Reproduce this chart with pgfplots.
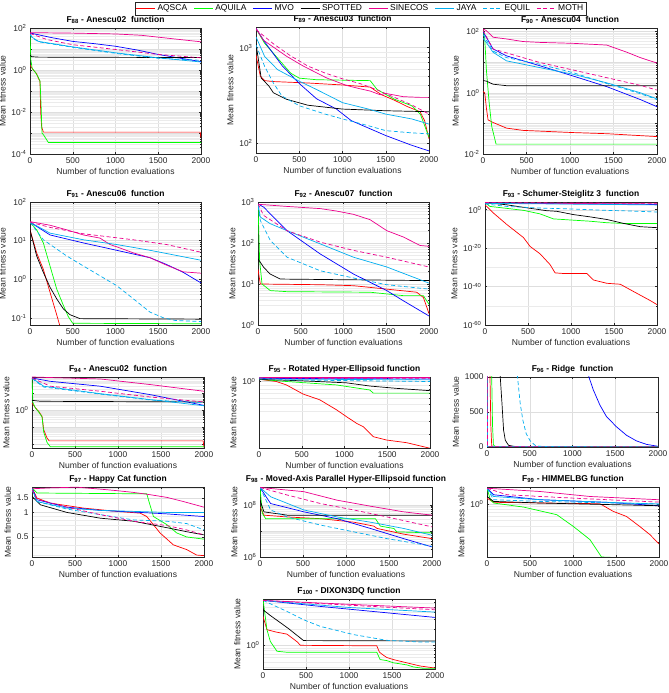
\documentclass[border=0pt]{standalone}
\usepackage{fontspec}
\setmainfont{Liberation Sans}
\usepackage{pgfplots}
\pgfplotsset{compat=1.18}

\definecolor{axgray}{rgb}{0.15,0.15,0.15}

\tikzset{
  sAQSCA/.style={color=red, solid},
  sAQUILA/.style={color=green, solid},
  sMVO/.style={color=blue, solid},
  sSPOTTED/.style={color=black, solid},
  sSINECOS/.style={color=magenta, solid},
  sJAYA/.style={color=cyan, solid},
  sEQUIL/.style={color=cyan, dash pattern=on 4bp off 2.5bp},
  sMOTH/.style={color=magenta, dash pattern=on 4bp off 2.5bp},
}

% powers of ten in the text font
\pgfplotsset{log number format basis/.code 2 args={#1\textsuperscript{\pgfmathprintnumber{#2}}}}

\pgfplotsset{
  conv/.style={
    scale only axis,
    xmin=0, xmax=2000, xtick={0,500,1000,1500,2000},
    axis line style={draw=axgray, line width=0.4bp},
    tick style={axgray, line width=0.4bp},
    major tick length=2.2bp, minor tick length=1.2bp,
    tick align=inside,
    xmajorgrids, ymajorgrids, yminorgrids,
    major grid style={black!13, line width=0.35bp},
    minor grid style={black!8, line width=0.3bp},
    tick label style={font=\fontsize{8.4}{9}\selectfont, text=axgray},
    label style={font=\fontsize{8.6}{10}\selectfont, text=axgray},
    title style={font=\bfseries\fontsize{8.5}{10}\selectfont, yshift=-5.5bp},
    xlabel={Number of function evaluations},
    ylabel={Mean fitness value},
    xlabel style={yshift=2bp},
    ylabel style={yshift=-1bp},
    /pgf/number format/assume math mode=true,
    /pgf/number format/set thousands separator={},
    every axis plot/.append style={line width=0.7bp},
  },
}

\begin{document}
\begin{tikzpicture}
\useasboundingbox (0,0) rectangle (669bp,693bp);

% ---------------- F88 ----------------
\begin{axis}[conv, ymode=log, at={(30bp,665bp)}, anchor=north west,
  width=171bp, height=126bp, ymin=1e-4, ymax=1e2,
  ytick={1e-4,1e-3,1e-2,1e-1,1,10,100},
  yticklabels={10\textsuperscript{-4},,10\textsuperscript{-2},,10\textsuperscript{0},,10\textsuperscript{2}},
  title={F\textsubscript{88} - Anescu02~ function}]
\addplot[sAQSCA] coordinates {(0,1.7)(39,1.0)(78,0.66)(97,0.41)(117,0.28)(125,0.01)(136,2e-3)(156,1.1e-3)(1990,1.1e-3)(2000,6e-4)};
\addplot[sAQUILA] coordinates {(0,50)(10,3)(25,1.2)(60,0.8)(97,0.45)(117,0.3)(130,0.02)(140,1e-3)(160,8e-4)(215,3.5e-4)(2000,3.5e-4)};
\addplot[sMVO] coordinates {(0,58)(250,35)(500,23)(750,18)(1000,13.5)(1250,9)(1500,5.5)(1750,3.7)(2000,2.5)};
\addplot[sSPOTTED] coordinates {(0,5)(20,4.3)(100,4.1)(2000,3.9)};
\addplot[sSINECOS] coordinates {(0,60)(500,57)(1000,52)(1300,45)(1600,33)(2000,22)};
\addplot[sJAYA] coordinates {(0,50)(30,35)(100,23)(500,12.6)(1000,6.6)(1500,3.8)(2000,2.4)};
\addplot[sEQUIL] coordinates {(0,50)(30,33)(100,22)(500,12)(1000,6.2)(1500,3.6)(2000,2.9)};
\addplot[sMOTH] coordinates {(0,55)(200,28)(500,16)(1000,9.5)(1500,5.5)(2000,3.8)};
\end{axis}

% ---------------- F89 (carries the shared legend) ----------------
\begin{axis}[conv, ymode=log, at={(256bp,666bp)}, anchor=north west,
  width=173bp, height=126bp, ymin=78, ymax=1650, ytick={100,1000},
  title={F\textsubscript{89} - Anescu03~ function},
  legend columns=8,
  legend entries={AQSCA,AQUILA,MVO,SPOTTED,SINECOS,JAYA,EQUIL,MOTH},
  legend style={at={(0.604,1.1984)}, anchor=north, draw=axgray, line width=0.4bp,
    font=\fontsize{8.5}{9}\selectfont, inner sep=0.8bp,
    /tikz/every even column/.append style={column sep=4.5bp}},
  legend image code/.code={\draw[#1, line width=0.7bp] (0bp,0bp) -- (19bp,0bp);}]
\addplot[sAQSCA] coordinates {(0,840)(50,500)(100,450)(200,440)(600,425)(1000,405)(1320,385)(1450,320)(1600,280)(1750,240)(1896,212)(1950,170)(2000,110)};
\addplot[sAQUILA] coordinates {(0,1580)(100,1110)(200,875)(400,540)(500,478)(700,460)(1320,450)(1400,363)(1600,287)(1800,245)(1900,200)(2000,114)};
\addplot[sMVO] coordinates {(0,1600)(100,1150)(300,650)(500,420)(700,290)(930,226)(1100,171)(1500,119)(1800,94)(2000,82)};
\addplot[sSPOTTED] coordinates {(0,1100)(60,480)(150,394)(200,336)(350,287)(600,248)(1000,226)(1500,217)(2000,212)};
\addplot[sSINECOS] coordinates {(0,1600)(85,1200)(355,810)(547,640)(817,480)(1048,400)(1200,370)(1318,350)(1434,320)(1500,330)(1703,305)(1896,300)(2000,300)};
\addplot[sJAYA] coordinates {(0,1300)(100,807)(250,587)(500,444)(700,363)(1000,264)(1300,226)(1500,200)(1800,178)(2000,157)};
\addplot[sEQUIL] coordinates {(0,1070)(100,635)(200,426)(300,310)(500,245)(800,200)(1000,178)(1300,151)(1500,134)(1800,127)(2000,124)};
\addplot[sMOTH] coordinates {(0,1550)(200,1100)(400,820)(600,640)(800,540)(1000,470)(1200,420)(1400,360)(1600,300)(1800,250)(2000,200)};
\end{axis}

% ---------------- F90 ----------------
\begin{axis}[conv, ymode=log, at={(483bp,665bp)}, anchor=north west,
  width=174bp, height=126bp, ymin=1e-2, ymax=130,
  ytick={1e-2,1e-1,1,10,100},
  yticklabels={10\textsuperscript{-2},,10\textsuperscript{0},,10\textsuperscript{2}},
  title={F\textsubscript{90} - Anescu04~ function}]
\addplot[sAQSCA] coordinates {(0,1.1)(20,1.0)(40,0.3)(58,0.13)(115,0.107)(270,0.07)(460,0.059)(1038,0.05)(1423,0.046)(2000,0.037)};
\addplot[sAQUILA] coordinates {(0,110)(20,60)(40,5)(70,0.5)(100,0.08)(150,0.021)(2000,0.021)};
\addplot[sMVO] coordinates {(0,100)(115,27)(270,16)(654,7.6)(1038,3.5)(1423,1.58)(1808,0.6)(2000,0.35)};
\addplot[sSPOTTED] coordinates {(0,2.5)(38,2.4)(115,1.9)(270,1.7)(2000,1.7)};
\addplot[sSINECOS] coordinates {(0,120)(38,107)(115,65)(270,57)(460,47)(654,44)(1038,41)(1423,36)(1500,30)(1654,21)(1808,14)(2000,9.3)};
\addplot[sJAYA] coordinates {(0,60)(38,44)(115,21)(270,11)(654,6.6)(1038,4)(1423,2.1)(1808,1.0)(2000,0.63)};
\addplot[sEQUIL] coordinates {(0,80)(115,23)(270,14)(654,8.5)(1038,4.5)(1423,2.0)(1808,0.93)(2000,0.6)};
\addplot[sMOTH] coordinates {(0,110)(115,27)(270,20)(654,9.7)(1038,5.5)(1423,3.1)(1808,1.74)(2000,1.22)};
\end{axis}

% ---------------- F91 ----------------
\begin{axis}[conv, ymode=log, at={(30bp,491bp)}, anchor=north west,
  width=171bp, height=123bp, ymin=0.065, ymax=100, ytick={0.1,1,10,100},
  title={F\textsubscript{91} - Anescu06~ function}]
\addplot[sAQSCA] coordinates {(0,19)(78,4.8)(156,1.8)(234,0.46)(312,0.12)(351,0.06)(400,0.03)(2000,0.03)};
\addplot[sAQUILA] coordinates {(0,30)(78,19)(156,8.7)(234,2.2)(312,0.56)(390,0.21)(448,0.107)(500,0.072)(2000,0.07)};
\addplot[sMVO] coordinates {(0,30)(234,14)(624,8.7)(1014,5.6)(1404,3.6)(1598,2.4)(1793,1.5)(2000,0.8)};
\addplot[sSPOTTED] coordinates {(0,19)(78,4)(156,1.5)(234,0.62)(312,0.31)(390,0.17)(468,0.12)(585,0.095)(2000,0.092)};
\addplot[sSINECOS] coordinates {(0,31)(234,25)(429,19)(624,14)(819,11.6)(936,7.9)(1014,6.9)(1209,4.8)(1404,3.6)(1598,2.3)(1793,1.55)(2000,1.43)};
\addplot[sJAYA] coordinates {(0,30)(234,15.6)(624,10.5)(1014,7.9)(1404,5.6)(2000,3.1)};
\addplot[sEQUIL] coordinates {(0,30)(156,10.5)(429,4)(624,2.2)(1014,0.68)(1209,0.31)(1404,0.14)(1560,0.1)(1700,0.085)(2000,0.08)};
\addplot[sMOTH] coordinates {(0,30)(234,22)(624,15)(1209,10.5)(1598,7.9)(2000,5.0)};
\end{axis}

% ---------------- F92 ----------------
\begin{axis}[conv, ymode=log, at={(258bp,491bp)}, anchor=north west,
  width=171bp, height=123bp, ymin=1, ymax=1000, ytick={1,10,100,1000},
  title={F\textsubscript{92} - Anescu07~ function}]
\addplot[sAQSCA] coordinates {(0,23)(27,10)(728,9.6)(1117,9.1)(1506,7.5)(1856,6.3)(1934,4.7)(2000,1.9)};
\addplot[sAQUILA] coordinates {(0,900)(19,37)(47,10)(144,6.9)(339,6.5)(1311,6.3)(1700,5.2)(1934,5.2)(2000,3.2)};
\addplot[sMVO] coordinates {(0,900)(66,750)(339,200)(728,54)(1117,17.5)(1506,6.9)(1700,3.9)(2000,1.66)};
\addplot[sSPOTTED] coordinates {(0,41)(66,25.5)(144,17.4)(261,13.2)(2000,12.1)};
\addplot[sSINECOS] coordinates {(0,880)(339,780)(728,690)(922,600)(1117,500)(1311,370)(1506,200)(1700,140)(1895,87)(2000,83)};
\addplot[sJAYA] coordinates {(0,900)(27,430)(144,295)(339,200)(728,95)(1117,45)(1506,26)(2000,10.5)};
\addplot[sEQUIL] coordinates {(0,800)(27,355)(144,115)(339,45)(728,21)(1117,14)(1506,9.6)(2000,7.5)};
\addplot[sMOTH] coordinates {(0,900)(66,470)(339,200)(728,105)(1117,66)(1506,45)(2000,26)};
\end{axis}

% ---------------- F93 ----------------
\begin{axis}[conv, ymode=log, at={(485bp,491bp)}, anchor=north west,
  width=172bp, height=123bp, ymin=1e-60, ymax=1e4,
  ytick={1e-60,1e-40,1e-20,1}, minor ytick={1e-50,1e-30,1e-10},
  title={F\textsubscript{93} - Schumer-Steiglitz 3~ function}]
\addplot[sAQSCA] coordinates {(0,350)(97,2e-2)(252,2.2e-8)(447,3.2e-15)(524,7.9e-20)(641,1e-23)(757,2.5e-29)(815,1.3e-33)(912,6.3e-34)(1184,6.3e-34)(1262,2.5e-37)(1417,5e-39)(1573,1.6e-39)(1728,2.5e-43)(1922,5e-48)(2000,4e-50)};
\addplot[sAQUILA] coordinates {(0,5e3)(58,50)(447,0.46)(641,6.3e-3)(796,1.6e-5)(1029,3.5e-6)(1223,1e-6)(1417,1.6e-7)(1612,7e-8)(2000,7e-8)};
\addplot[sMVO] coordinates {(0,3e3)(2000,5e2)};
\addplot[sSPOTTED] coordinates {(0,5e3)(252,350)(505,7)(718,0.3)(835,0.14)(1029,2.8e-3)(1223,1.8e-4)(1417,7.9e-6)(1612,7e-8)(1806,1.4e-9)(2000,4.4e-10)};
\addplot[sSINECOS] coordinates {(0,3e3)(2000,1e3)};
\addplot[sJAYA] coordinates {(0,2e3)(2000,3e2)};
\addplot[sEQUIL] coordinates {(0,1e3)(252,50)(641,7)(1029,2.2)(1417,0.46)(1806,0.14)(2000,0.063)};
\addplot[sMOTH] coordinates {(0,5e3)(2000,2e3)};
\end{axis}

% ---------------- F94 ----------------
\begin{axis}[conv, ymode=log, at={(32bp,316bp)}, anchor=north west,
  width=172bp, height=71bp, ymin=5.6e-3, ymax=100,
  ytick={1e-2,1e-1,1,10,100}, yticklabels={,,10\textsuperscript{0},,},
  title={F\textsubscript{94} - Anescu02~ function}]
\addplot[sAQSCA] coordinates {(0,2.75)(39,1.45)(78,0.87)(117,0.44)(136,0.07)(175,0.022)(200,0.015)(1990,0.015)(2000,6e-3)};
\addplot[sAQUILA] coordinates {(0,80)(10,3)(39,1.4)(78,0.8)(117,0.4)(136,0.05)(175,0.012)(214,0.0066)(2000,0.0066)};
\addplot[sMVO] coordinates {(0,87)(214,55)(796,28)(1379,8.7)(2000,2.0)};
\addplot[sSPOTTED] coordinates {(0,4)(100,3.5)(2000,3.2)};
\addplot[sSINECOS] coordinates {(0,100)(796,76)(1379,35)(2000,14)};
\addplot[sJAYA] coordinates {(0,87)(136,28)(796,10)(1379,4.4)(2000,1.9)};
\addplot[sEQUIL] coordinates {(0,80)(136,25)(796,9.5)(1379,4.2)(2000,2.8)};
\addplot[sMOTH] coordinates {(0,87)(214,28)(796,14)(1379,6.3)(2000,3.2)};
\end{axis}

% ---------------- F95 ----------------
\begin{axis}[conv, ymode=log, at={(259bp,316bp)}, anchor=north west,
  width=171bp, height=71bp, ymin=0.13, ymax=1.148,
  ytick={1}, minor ytick={0.2,0.3,0.4,0.5,0.6,0.7,0.8,0.9},
  title={F\textsubscript{95} - Rotated Hyper-Ellipsoid function}]
\addplot[sAQSCA] coordinates {(0,1.07)(203,1.0)(320,0.90)(516,0.68)(711,0.57)(906,0.42)(1023,0.34)(1141,0.277)(1219,0.25)(1336,0.184)(1492,0.166)(1727,0.153)(2000,0.129)};
\addplot[sAQUILA] coordinates {(0,1.07)(320,1.0)(906,0.90)(1297,0.77)(1336,0.70)(2000,0.70)};
\addplot[sMVO] coordinates {(0,1.10)(2000,1.08)};
\addplot[sSPOTTED] coordinates {(0,1.07)(516,1.02)(1023,0.96)(1297,0.87)(1609,0.81)(2000,0.755)};
\addplot[sSINECOS] coordinates {(0,1.12)(2000,1.12)};
\addplot[sJAYA] coordinates {(0,1.08)(2000,1.05)};
\addplot[sEQUIL] coordinates {(0,1.12)(320,1.05)(2000,1.0)};
\addplot[sMOTH] coordinates {(0,1.11)(2000,1.10)};
\end{axis}

% ---------------- F96 ----------------
\begin{axis}[conv, at={(487bp,316bp)}, anchor=north west,
  width=171bp, height=70bp, ymin=0, ymax=1000, ytick={0,500,1000},
  title={F\textsubscript{96} - Ridge~ function}]
\addplot[sAQSCA] coordinates {(0,5000)(35,1000)(45,300)(55,20)(70,0)(2000,0)};
\addplot[sAQUILA] coordinates {(0,5000)(55,1000)(65,300)(75,30)(100,5)(2000,0)};
\addplot[sMVO] coordinates {(0,5000)(1100,2000)(1192,1000)(1243,817)(1320,600)(1398,433)(1515,288)(1631,168)(1748,87)(1864,38)(2000,10)};
\addplot[sSPOTTED] coordinates {(0,5000)(155,1000)(175,625)(194,240)(214,96)(252,24)(311,10)(400,2)(2000,0)};
\addplot[sSINECOS] coordinates {(0,5000)(3,1000)(6,3)(2000,0)};
\addplot[sJAYA] coordinates {(0,5000)(3,1000)(6,5)(2000,0)};
\addplot[sEQUIL] coordinates {(0,5000)(330,2000)(357,1000)(388,625)(419,385)(458,192)(505,87)(563,24)(621,10)(800,1)(2000,0)};
\addplot[sMOTH] coordinates {(0,5000)(3,1000)(6,3)(2000,0)};
\end{axis}

% ---------------- F97 ----------------
\begin{axis}[conv, ymode=log, at={(32bp,206bp)}, anchor=north west,
  width=172bp, height=70bp, ymin=0.284, ymax=2.05,
  ytick={0.5,1,1.5}, yticklabels={0.5,1,1.5},
  minor ytick={0.3,0.4,0.6,0.7,0.8,0.9,2},
  title={F\textsubscript{97} - Happy Cat function}]
\addplot[sAQSCA] coordinates {(0,2.0)(58,1.5)(213,1.30)(600,1.13)(986,1.03)(1257,0.98)(1335,0.89)(1489,0.56)(1644,0.40)(1799,0.35)(1915,0.30)(2000,0.295)};
\addplot[sAQUILA] coordinates {(0,2.0)(58,1.73)(1335,1.69)(1354,1.43)(1412,0.89)(1567,0.71)(1683,0.56)(1799,0.50)(2000,0.47)};
\addplot[sMVO] coordinates {(0,2.0)(58,1.43)(406,1.16)(793,1.06)(1180,1.01)(1567,0.96)(2000,0.89)};
\addplot[sSPOTTED] coordinates {(0,1.57)(97,1.24)(406,1.0)(793,0.85)(1180,0.78)(1567,0.65)(1799,0.58)(2000,0.53)};
\addplot[sSINECOS] coordinates {(0,1.95)(213,2.0)(522,2.04)(793,1.93)(986,1.85)(1180,1.76)(1373,1.65)(1567,1.53)(1760,1.36)(2000,1.16)};
\addplot[sJAYA] coordinates {(0,1.95)(58,1.36)(406,1.13)(793,1.06)(1180,1.03)(1567,1.0)(2000,1.0)};
\addplot[sEQUIL] coordinates {(0,1.9)(58,1.36)(406,1.10)(793,0.94)(1180,0.81)(1567,0.78)(1799,0.73)(2000,0.61)};
\addplot[sMOTH] coordinates {(0,1.9)(58,1.45)(406,1.16)(793,0.94)(1180,0.78)(1567,0.69)(1799,0.61)(2000,0.53)};
\end{axis}

% ---------------- F98 ----------------
\begin{axis}[conv, ymode=log, at={(260bp,206bp)}, anchor=north west,
  width=172bp, height=70bp, ymin=1e6, ymax=5e8,
  ytick={1e6,1e7,1e8}, yticklabels={10\textsuperscript{6},,10\textsuperscript{8}},
  title={F\textsubscript{98} - Moved-Axis Parallel Hyper-Ellipsoid function}]
\addplot[sAQSCA] coordinates {(0,8.7e7)(46,4.1e7)(317,3.5e7)(704,3.0e7)(1091,2.2e7)(1323,1.55e7)(1362,1.26e7)(1671,7.6e6)(2000,5.1e6)};
\addplot[sAQUILA] coordinates {(0,4.8e8)(27,4.8e7)(66,3.0e7)(1342,3.0e7)(1400,1.55e7)(1555,1.26e7)(1594,9.3e6)(2000,8.5e6)};
\addplot[sMVO] coordinates {(0,4.8e8)(124,1.15e8)(511,5.5e7)(897,3.0e7)(1284,1.26e7)(1671,5.1e6)(2000,2.45e6)};
\addplot[sSPOTTED] coordinates {(0,1.55e8)(46,5.5e7)(317,4.1e7)(2000,4.1e7)};
\addplot[sSINECOS] coordinates {(0,4.8e8)(511,3.3e8)(897,1.55e8)(1284,9.1e7)(1671,5.5e7)(2000,4.1e7)};
\addplot[sJAYA] coordinates {(0,4.8e8)(124,2.1e8)(511,6.5e7)(897,3.5e7)(1284,2.2e7)(1671,1.26e7)(2000,6.9e6)};
\addplot[sEQUIL] coordinates {(0,4.8e8)(124,6.5e7)(317,3.5e7)(704,1.7e7)(1091,9.3e6)(1478,5.1e6)(1865,3.1e6)(2000,2.6e6)};
\addplot[sMOTH] coordinates {(0,4.8e8)(317,2.45e8)(704,1.15e8)(1091,6.5e7)(1478,3.5e7)(2000,1.45e7)};
\end{axis}

% ---------------- F99 ----------------
\begin{axis}[conv, ymode=log, at={(487bp,206bp)}, anchor=north west,
  width=172bp, height=70bp, ymin=0.11, ymax=2.0,
  ytick={1}, minor ytick={0.2,0.3,0.4,0.5,0.6,0.7,0.8,0.9},
  title={F\textsubscript{99} - HIMMELBG function}]
\addplot[sAQSCA] coordinates {(0,1.26)(77,1.06)(1313,1.0)(1467,0.73)(1622,0.59)(1776,0.39)(1892,0.28)(2000,0.19)};
\addplot[sAQUILA] coordinates {(0,1.9)(39,1.18)(77,1.03)(425,0.87)(811,0.635)(1004,0.39)(1197,0.226)(1332,0.11)(2000,0.10)};
\addplot[sMVO] coordinates {(0,1.9)(77,1.45)(618,1.18)(1390,1.06)(2000,0.92)};
\addplot[sSPOTTED] coordinates {(0,1.35)(77,1.10)(618,1.03)(2000,0.92)};
\addplot[sSINECOS] coordinates {(0,1.9)(618,1.66)(1197,1.35)(2000,1.18)};
\addplot[sJAYA] coordinates {(0,1.9)(77,1.35)(618,1.18)(1390,1.06)(2000,0.99)};
\addplot[sEQUIL] coordinates {(0,1.9)(77,1.18)(618,1.10)(2000,0.99)};
\addplot[sMOTH] coordinates {(0,1.9)(232,1.45)(1004,1.26)(2000,1.07)};
\end{axis}

% ---------------- F100 ----------------
\begin{axis}[conv, ymode=log, at={(263bp,94bp)}, anchor=north west,
  width=172bp, height=70bp, ymin=0.37, ymax=7,
  ytick={1}, minor ytick={0.4,0.5,0.6,0.7,0.8,0.9,2,3,4,5,6},
  title={F\textsubscript{100} - DIXON3DQ function}]
\addplot[sAQSCA] coordinates {(0,3.37)(46,1.93)(150,1.75)(279,1.6)(400,1.15)(434,1.0)(1323,0.98)(1354,0.75)(1400,0.66)(1439,0.6)(1516,0.55)(1671,0.48)(1826,0.42)(2000,0.385)};
\addplot[sAQUILA] coordinates {(0,6.9)(46,1.93)(85,1.18)(162,0.78)(279,0.747)(1323,0.747)(1362,0.55)(1439,0.527)(1516,0.48)(1671,0.44)(1748,0.404)(1864,0.38)(2000,0.38)};
\addplot[sMVO] coordinates {(0,6.6)(665,5.13)(2000,3.23)};
\addplot[sSPOTTED] coordinates {(0,4.46)(85,3.5)(200,2.6)(300,2.0)(400,1.5)(472,1.22)(2000,1.2)};
\addplot[sSINECOS] coordinates {(0,6.6)(1000,5.6)(2000,4.78)};
\addplot[sJAYA] coordinates {(0,6.6)(1000,4.9)(2000,4.04)};
\addplot[sEQUIL] coordinates {(0,6.6)(279,4.15)(472,2.93)(665,2.22)(1052,1.57)(1439,1.235)(1826,1.15)(2000,1.15)};
\addplot[sMOTH] coordinates {(0,6.6)(1000,5.4)(2000,4.46)};
\end{axis}

\end{tikzpicture}
\end{document}
